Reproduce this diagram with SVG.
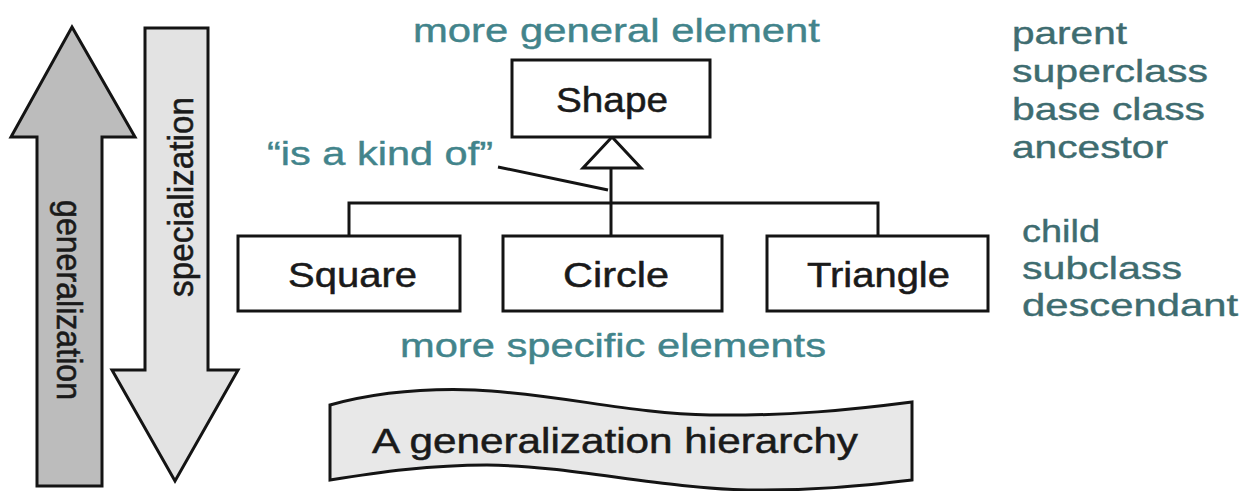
<svg xmlns="http://www.w3.org/2000/svg" width="1248" height="491" viewBox="0 0 1248 491">
  <style>
    .box { fill: #ffffff; stroke: #141414; stroke-width: 3; }
    .lbl { font-family: "Liberation Sans", Arial, sans-serif; font-size: 35px; fill: #1a1a1a; stroke: #1a1a1a; stroke-width: 0.5; }
    .rot { font-family: "Liberation Sans", Arial, sans-serif; font-size: 32px; fill: #1a1a1a; stroke: #1a1a1a; stroke-width: 0.5; }
    .note { font-family: "Liberation Sans", Arial, sans-serif; font-size: 33px; fill: #42848b; stroke: #42848b; stroke-width: 0.4; }
    .side { font-family: "Liberation Sans", Arial, sans-serif; font-size: 32px; fill: #3e6c70; stroke: #3e6c70; stroke-width: 0.4; }
    .wire { fill: none; stroke: #141414; stroke-width: 3; }
    .arrow { stroke: #141414; stroke-width: 3; stroke-linejoin: miter; }
  </style>
  <rect width="1248" height="491" fill="#ffffff"/>

  <!-- direction arrows -->
  <g id="generalization-arrow">
    <polygon class="arrow" fill="#bcbcbc" points="72,27 135,137 102,137 102,486 37,486 37,137 11,137"/>
    <text class="rot" transform="translate(57,300) scale(1.12,1) rotate(90)" text-anchor="middle" textLength="200" lengthAdjust="spacingAndGlyphs">generalization</text>
  </g>
  <g id="specialization-arrow">
    <polygon class="arrow" fill="#e3e3e3" points="145,28 208,28 208,370 238,370 175,481 112,370 145,370"/>
    <text class="rot" transform="translate(193,197) scale(1.12,1) rotate(-90)" text-anchor="middle" textLength="200" lengthAdjust="spacingAndGlyphs">specialization</text>
  </g>

  <!-- annotations -->
  <text class="note" x="413" y="42" textLength="407" lengthAdjust="spacingAndGlyphs">more general element</text>
  <text class="note" x="400" y="357" textLength="426" lengthAdjust="spacingAndGlyphs">more specific elements</text>
  <text class="note" x="267" y="165" textLength="226" lengthAdjust="spacingAndGlyphs">“is a kind of”</text>

  <g id="parent-terms">
    <text class="side" x="1012" y="44" textLength="115" lengthAdjust="spacingAndGlyphs">parent</text>
    <text class="side" x="1012" y="82" textLength="196" lengthAdjust="spacingAndGlyphs">superclass</text>
    <text class="side" x="1012" y="120" textLength="193" lengthAdjust="spacingAndGlyphs">base class</text>
    <text class="side" x="1012" y="158" textLength="156" lengthAdjust="spacingAndGlyphs">ancestor</text>
  </g>
  <g id="child-terms">
    <text class="side" x="1022" y="242" textLength="78" lengthAdjust="spacingAndGlyphs">child</text>
    <text class="side" x="1022" y="279" textLength="160" lengthAdjust="spacingAndGlyphs">subclass</text>
    <text class="side" x="1022" y="316" textLength="216" lengthAdjust="spacingAndGlyphs">descendant</text>
  </g>

  <!-- connectors -->
  <g id="connectors">
    <line class="wire" x1="611" y1="168" x2="611" y2="236"/>
    <polyline class="wire" points="349,236 349,203 878,203 878,236"/>
    <polygon class="box" points="612,137 583,168 641,168"/>
    <line class="wire" x1="498" y1="167" x2="608" y2="190" stroke-width="2"/>
  </g>

  <!-- class nodes -->
  <g id="shape">
    <rect class="box" x="512" y="60" width="198" height="77"/>
    <text class="lbl" x="556" y="112" textLength="112" lengthAdjust="spacingAndGlyphs">Shape</text>
  </g>
  <g id="square">
    <rect class="box" x="238" y="236" width="222" height="75"/>
    <text class="lbl" x="288" y="287" textLength="129" lengthAdjust="spacingAndGlyphs">Square</text>
  </g>
  <g id="circle">
    <rect class="box" x="503" y="236" width="219" height="75"/>
    <text class="lbl" x="563" y="287" textLength="106" lengthAdjust="spacingAndGlyphs">Circle</text>
  </g>
  <g id="triangle">
    <rect class="box" x="767" y="236" width="221" height="75"/>
    <text class="lbl" x="807" y="287" textLength="143" lengthAdjust="spacingAndGlyphs">Triangle</text>
  </g>

  <!-- caption banner -->
  <g id="caption">
    <path class="arrow" fill="#e8e8e8" d="M330,405 C370,394 420,388 475,390 C560,394 630,414 710,415 C790,416 850,410 912,402 L912,480 C860,486 810,491 748,490 C660,488 570,466 487,465 C430,465 380,472 330,480 Z"/>
    <text class="lbl" x="372" y="453" textLength="486" lengthAdjust="spacingAndGlyphs">A generalization hierarchy</text>
  </g>
</svg>
